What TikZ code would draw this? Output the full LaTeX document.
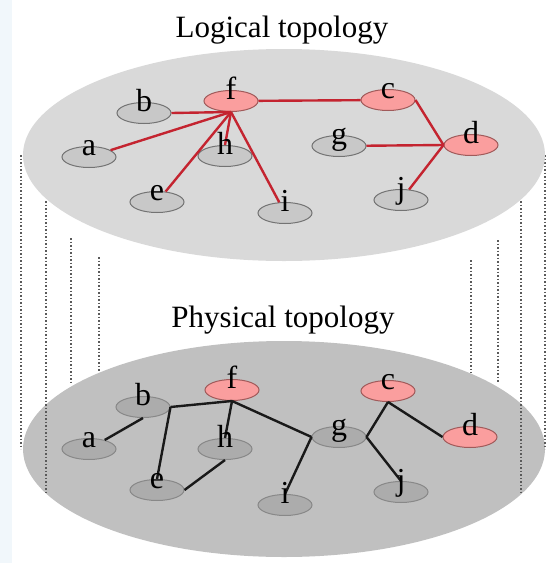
\documentclass[tikz,border=0pt]{standalone}
\usepackage{fontspec}
\setmainfont{Liberation Serif}
\usetikzlibrary{shapes.geometric}
\definecolor{planeT}{RGB}{217,217,217}
\definecolor{planeB}{RGB}{192,192,192}
\definecolor{nodeT}{RGB}{200,200,200}
\definecolor{nodeB}{RGB}{172,172,172}
\definecolor{nodeBorder}{RGB}{115,115,115}
\definecolor{pinkfill}{RGB}{250,158,158}
\definecolor{pinkborder}{RGB}{160,90,90}
\definecolor{redline}{RGB}{196,36,48}
\definecolor{blkline}{RGB}{25,25,25}
\definecolor{dotgray}{RGB}{90,90,90}
\definecolor{leftband}{RGB}{241,247,251}
\tikzset{
  vert/.style={ellipse, draw=nodeBorder, line width=1pt, minimum width=54pt, minimum height=21pt, inner sep=0pt},
  grayT/.style={vert, fill=nodeT},
  grayB/.style={vert, fill=nodeB, draw=nodeBorder!85},
  pinkN/.style={vert, fill=pinkfill, draw=pinkborder},
  lbl/.style={anchor=base, inner sep=0pt, yshift=2pt, font=\fontsize{32}{32}\selectfont},
  title/.style={anchor=base, inner sep=0pt, font=\fontsize{31}{31}\selectfont},
  redE/.style={draw=redline, line width=2.4pt},
  blkE/.style={draw=blkline, line width=2.4pt},
  dotline/.style={draw=dotgray, line width=1.7pt, dash pattern=on 1.8pt off 1.7pt}
}
\begin{document}
\begin{tikzpicture}[x=1pt,y=-1pt]
\useasboundingbox (0,0) rectangle (549,563);
\fill[leftband] (0,0) rectangle (12,563);

% planes
\fill[planeB] (284,449) ellipse [x radius=261pt, y radius=108pt];
\draw[dotline] (21,155) -- (21,449);
\draw[dotline] (46,201) -- (46,493);
\draw[dotline] (71,238) -- (71,383);
\draw[dotline] (99,257) -- (99,371);
\draw[dotline] (545,155) -- (545,449);
\draw[dotline] (521,201) -- (521,493);
\draw[dotline] (498,240) -- (498,383);
\draw[dotline] (471,260) -- (471,373);
\fill[planeT] (284,155) ellipse [x radius=261pt, y radius=106pt];

% titles
\node[title] (t1) at (282,37) {Logical topology};
\node[title] (t2) at (283,327) {Physical topology};

% logical topology nodes
\node[grayT] (ta) at (89,157) {};
\node[grayT] (tb) at (144,113) {};
\node[pinkN] (tf) at (231,101) {};
\node[pinkN] (tc) at (388,100) {};
\node[grayT] (th) at (225,156) {};
\node[grayT] (tg) at (339,146) {};
\node[pinkN] (td) at (471,145) {};
\node[grayT] (te) at (157,202) {};
\node[grayT] (ti) at (285,213) {};
\node[grayT] (tj) at (401,200) {};

\draw[redE] (tf.south) -- (tb.east);
\draw[redE] (tf.south) -- (ta);
\draw[redE] (tf.south) -- (th.north);
\draw[redE] (tf.south) -- (te);
\draw[redE] (tf.south) -- (ti);
\draw[redE] (tf) -- (tc);
\draw[redE] (tc.east) -- (td.west);
\draw[redE] (tg) -- (td.west);
\draw[redE] (tj) -- (td.west);

\node[lbl] (taL) at (ta.center) {a};
\node[lbl] (tbL) at (tb.center) {b};
\node[lbl] (tfL) at (tf.center) {f};
\node[lbl] (tcL) at (tc.center) {c};
\node[lbl] (thL) at (th.center) {h};
\node[lbl] (tgL) at (tg.center) {g};
\node[lbl] (tdL) at (td.center) {d};
\node[lbl] (teL) at (te.center) {e};
\node[lbl] (tiL) at (ti.center) {i};
\node[lbl] (tjL) at (tj.center) {j};

% physical topology nodes
\node[grayB] (pa) at (89,449) {};
\node[grayB] (pb) at (143,407) {};
\node[pinkN] (pf) at (232,390) {};
\node[pinkN] (pc) at (388,391) {};
\node[grayB] (ph) at (225,449) {};
\node[grayB] (pg) at (339,437) {};
\node[pinkN] (pd) at (470,437) {};
\node[grayB] (pe) at (157,490) {};
\node[grayB] (pi) at (285,505) {};
\node[grayB] (pj) at (401,492) {};

\draw[blkE] (pa) -- (pb.south);
\draw[blkE] (pb.east) -- (pf.south);
\draw[blkE] (pb.east) -- (pe.north);
\draw[blkE] (pe.east) -- (ph.south);
\draw[blkE] (pf.south) -- (ph.north);
\draw[blkE] (pf.south) -- (pg.west);
\draw[blkE] (pg.west) -- (pi.north);
\draw[blkE] (pg.east) -- (pj.north);
\draw[blkE] (pg.east) -- (pc.south);
\draw[blkE] (pc.south) -- (pd.west);

\node[lbl] (paL) at (pa.center) {a};
\node[lbl] (pbL) at (pb.center) {b};
\node[lbl] (pfL) at (pf.center) {f};
\node[lbl] (pcL) at (pc.center) {c};
\node[lbl] (phL) at (ph.center) {h};
\node[lbl] (pgL) at (pg.center) {g};
\node[lbl] (pdL) at (pd.center) {d};
\node[lbl] (peL) at (pe.center) {e};
\node[lbl] (piL) at (pi.center) {i};
\node[lbl] (pjL) at (pj.center) {j};
\end{tikzpicture}
\end{document}
